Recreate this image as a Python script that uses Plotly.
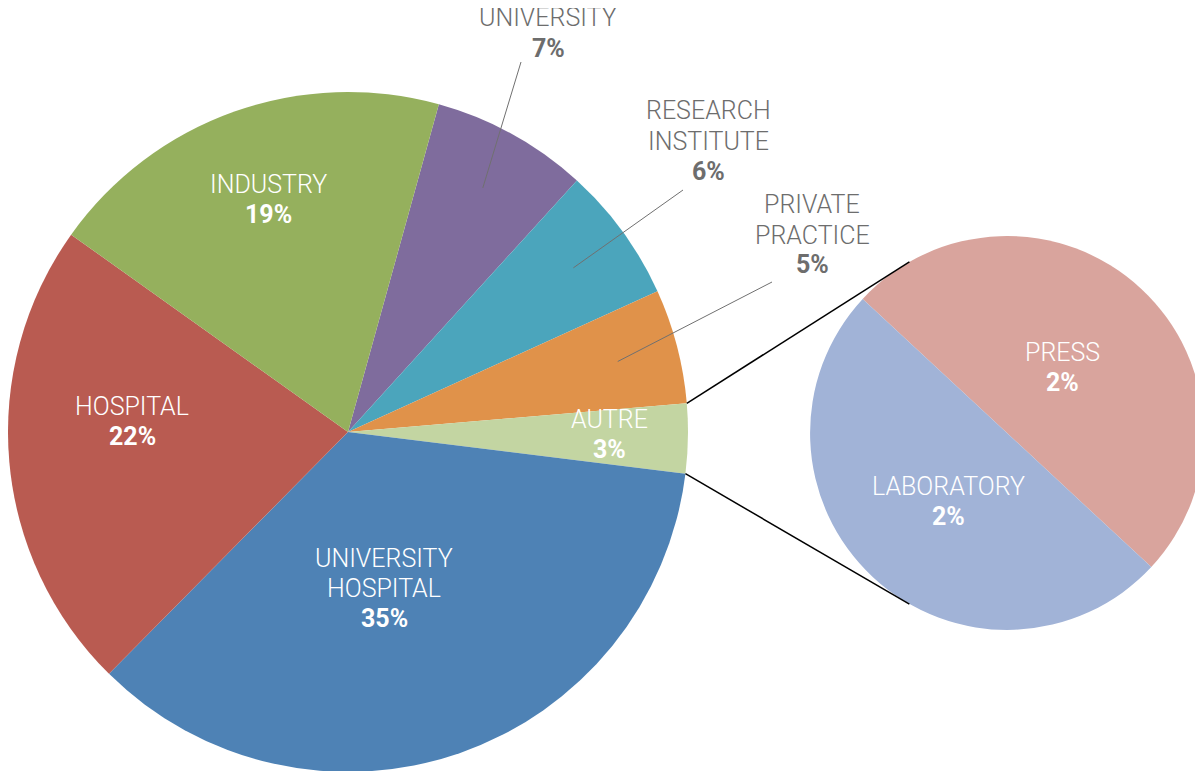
import math
import plotly.graph_objects as go

# ---------------- data ----------------
main_labels = ["UNIVERSITY", "RESEARCH INSTITUTE", "PRIVATE PRACTICE", "AUTRE",
               "UNIVERSITY HOSPITAL", "HOSPITAL", "INDUSTRY"]
main_values = [7.45, 6.45, 5.45, 3.30, 35.45, 22.45, 19.45]
sub_labels = ["PRESS", "LABORATORY"]
sub_values = [1.65, 1.65]

main_colors = ["#7F6C9D", "#4BA5BC", "#E0924A", "#C3D5A2", "#4E82B5", "#B95B51", "#95B05D"]
sub_colors = ["#D9A49D", "#A1B3D7"]

# ---------------- layout / style ----------------
W, H = 1203, 771
OFF = 8  # page body margin
MAIN_CX, MAIN_CY, MAIN_R = 348, 432, 340
SUB_CX, SUB_CY, SUB_R = 1007, 433, 197
MAIN_ROT = 15.5
SUB_ROT = -47.1
FONT = "Roboto, Liberation Sans, Arial, sans-serif"
FS = 25
LINE_H = 30
GREY = "#6D6D6D"

# label block centres (reference pixels)
LABEL_POS = {
    "UNIVERSITY": (548, 33),
    "RESEARCH INSTITUTE": (708, 141),
    "PRIVATE PRACTICE": (812, 235),
    "AUTRE": (609, 434),
    "UNIVERSITY HOSPITAL": (384, 588),
    "HOSPITAL": (132, 421),
    "INDUSTRY": (268, 200),
    "PRESS": (1062, 367),
    "LABORATORY": (948, 501),
}
LEADER_TAIL = {
    "UNIVERSITY": (521, 62),
    "RESEARCH INSTITUTE": (683, 190),
    "PRIVATE PRACTICE": (772, 282),
}

total = sum(main_values)


def domain(cx, cy, r):
    cx, cy = cx - OFF, cy - OFF
    return dict(x=[max(0, (cx - r) / W), min(1, (cx + r) / W)],
                y=[max(0, (H - cy - r) / H), min(1, (H - cy + r) / H)])


def pt(cx, cy, r, ang):
    a = math.radians(ang)
    return cx + r * math.sin(a), cy - r * math.cos(a)


def paper(px, py):
    return (px - OFF) / W, 1 - (py - OFF) / H


fig = go.Figure()
fig.add_trace(go.Pie(
    labels=main_labels, values=main_values, sort=False, direction="clockwise",
    rotation=MAIN_ROT, domain=domain(MAIN_CX, MAIN_CY, MAIN_R),
    marker=dict(colors=main_colors, line=dict(width=0)),
    textinfo="none", showlegend=False, hoverinfo="label+value",
))
fig.add_trace(go.Pie(
    labels=sub_labels, values=sub_values, sort=False, direction="clockwise",
    rotation=SUB_ROT, domain=domain(SUB_CX, SUB_CY, SUB_R),
    marker=dict(colors=sub_colors, line=dict(width=0)),
    textinfo="none", showlegend=False, hoverinfo="label+value",
))

annotations = []
shapes = []


def add_label(lab, pct, color):
    lines = lab.split(" ") + [f"<b>{pct}%</b>"]
    cx, cy = LABEL_POS[lab]
    n = len(lines)
    for i, s in enumerate(lines):
        y = cy + (i - (n - 1) / 2) * LINE_H
        px, py = paper(cx, y)
        annotations.append(dict(
            x=px, y=py, xref="paper", yref="paper", text=s, showarrow=False,
            font=dict(family=FONT, size=FS, color=color, weight=300),
            xanchor="center", yanchor="middle",
        ))


cum = 0.0
autre_angles = None
for lab, v in zip(main_labels, main_values):
    a0 = MAIN_ROT + 360 * cum / total
    a1 = MAIN_ROT + 360 * (cum + v) / total
    cum += v
    if lab == "AUTRE":
        autre_angles = (a0, a1)
    pct = round(v / total * 100)
    if lab in LEADER_TAIL:
        add_label(lab, pct, GREY)
        tx, ty = pt(MAIN_CX, MAIN_CY, MAIN_R * 0.82, (a0 + a1) / 2)
        x0, y0 = paper(*LEADER_TAIL[lab])
        x1, y1 = paper(tx, ty)
        shapes.append(dict(type="line", xref="paper", yref="paper", x0=x0, y0=y0, x1=x1, y1=y1,
                           line=dict(color="#707070", width=1)))
    else:
        add_label(lab, pct, "white")

for lab, v in zip(sub_labels, sub_values):
    add_label(lab, round(v / total * 100), "white")

for a_main, a_sub in ((autre_angles[0], -29.7), (autre_angles[1], 180 + 29.7)):
    x0, y0 = paper(*pt(MAIN_CX, MAIN_CY, MAIN_R, a_main))
    x1, y1 = paper(*pt(SUB_CX, SUB_CY, SUB_R, a_sub))
    shapes.append(dict(type="line", xref="paper", yref="paper", x0=x0, y0=y0, x1=x1, y1=y1,
                       line=dict(color="black", width=1.5)))

fig.update_layout(
    width=W, height=H, margin=dict(l=0, r=0, t=0, b=0),
    paper_bgcolor="white", plot_bgcolor="white",
    annotations=annotations, shapes=shapes, showlegend=False,
    font=dict(family=FONT),
)

fig.write_html("out.html")
